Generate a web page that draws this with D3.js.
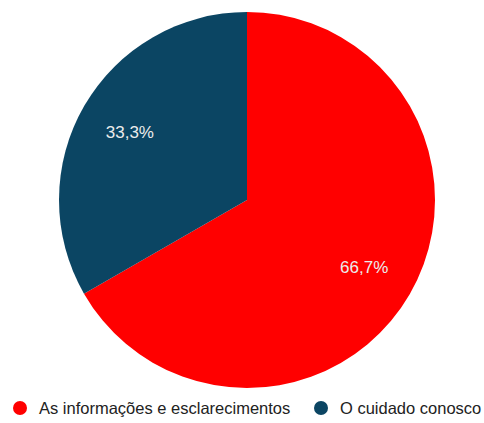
<!DOCTYPE html>
<html>
<head>
<meta charset="utf-8">
<script src="https://cdn.jsdelivr.net/npm/d3@7"></script>
<style>
  html, body { margin: 0; padding: 0; background: #fff; }
  svg { display: block; font-family: "Liberation Sans", Arial, sans-serif; }
</style>
</head>
<body>
<svg id="chart" width="484" height="423"></svg>
<script>
// Survey answers and their shares
const categories = ["As informações e esclarecimentos", "O cuidado conosco"];
const values = [66.7, 33.3];
const colors = ["#ff0000", "#0b4563"];

const svg = d3.select("#chart");
const cx = 247, cy = 200, radius = 188;

const pie = d3.pie().sort(null).value(d => d.value);
const arcs = pie(categories.map((c, i) => ({ name: c, value: values[i], color: colors[i] })));

const arc = d3.arc().innerRadius(0).outerRadius(radius);
const labelArc = d3.arc().innerRadius(radius * 0.72).outerRadius(radius * 0.72);

const g = svg.append("g").attr("transform", `translate(${cx},${cy})`);

g.selectAll("path")
  .data(arcs)
  .join("path")
  .attr("d", arc)
  .attr("fill", d => d.data.color);

g.selectAll("text")
  .data(arcs)
  .join("text")
  .attr("transform", d => `translate(${labelArc.centroid(d)})`)
  .attr("text-anchor", "middle")
  .attr("dominant-baseline", "central")
  .attr("fill", "#ececec")
  .attr("font-size", 17)
  .text(d => d.data.value.toFixed(1).replace(".", ",") + "%");

// Legend along the bottom
const legendX = [20, 321];
const legend = svg.append("g").attr("transform", "translate(0,408)");
const items = legend.selectAll("g")
  .data(categories)
  .join("g")
  .attr("transform", (d, i) => `translate(${legendX[i]},0)`);

items.append("circle")
  .attr("r", 7)
  .attr("fill", (d, i) => colors[i]);

items.append("text")
  .attr("x", 19)
  .attr("dominant-baseline", "central")
  .attr("font-size", 16.5)
  .attr("fill", "#222")
  .text(d => d);
</script>
</body>
</html>
